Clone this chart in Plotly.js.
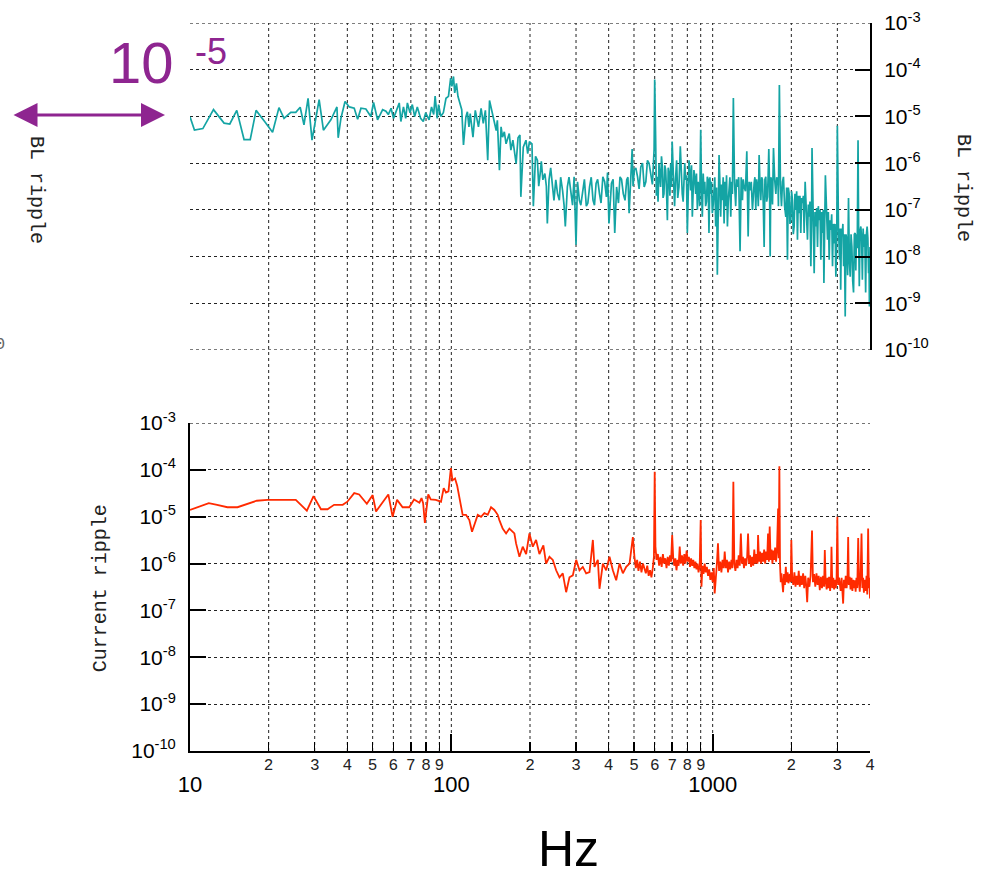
<!DOCTYPE html>
<html>
<head>
<meta charset="utf-8">
<script src="https://cdn.plot.ly/plotly-3.0.1.min.js"></script>
<style>html,body{margin:0;padding:0;background:#fff;}#chart{width:989px;height:880px;}</style>
</head>
<body>
<div id="chart"></div>
<script>
// ---- BL ripple (top, teal) ----
const blFreq = [
10,10.4,11.2,12.3,13.5,14.2,15.1,16.1,17,17.9,
19.3,20.7,21.9,22.9,24.3,25.4,26.4,27.3,28.3,29.3,
30.3,31.2,32.4,34.6,36.5,36.9,37.8,39.2,40.7,42.5,
43.8,45.1,47.1,49.2,50.4,52.2,54.6,56.2,57.4,58.8,
60.1,61.3,63.2,64.1,65.6,66.9,67.9,69.5,70.9,72.4,
74.1,76.3,78.1,79.8,82.2,84,85.6,86.7,88.3,89.4,
91.1,93.2,95.4,97.5,99.4,100.5,101.9,103,104.6,106,
107.6,109.6,111.3,113.7,115.2,116.8,118.1,121,123.5,127,
130,132.5,135,137.8,140,143,146,148.5,150,152.8,
155,157,159.5,162,166.6,169,172,174.5,177,180,
183,184.5,188.5,193,196,199,203.5,206,210,213.5,
216,219.5,221,224,228,231,233,236.5,240,244,
247,251,255,259,262,266.5,270,273,278,282,
287,291,295,300,304,309,313,318,323,328.5,
333,338,343,348.5,353,358,363,369,374,380,
386,392,396,401,405,410,416,422,429,436,
442,448,455,462,469,474,479,485,492,496,
501,508,516,523,531,539,547,555,563,571,
580,588,597,
600,605,609,614,618,623,627,632,637,642,
646,651,656,661,666,671,676,681,686,691,
695,700,707,715,721,728,735,743,752,758,
765,771,777,782,788,794,800,806,812,818,
824,830,836,842,848,854,861,867,874,880,
885,892,900,906,913,920,927,933,940,947,
954,961,968,976,983,990,997,1005,1012,1019,
1027,1035,1042,1050,1058,1065,1073,1081,1089,1097,
1106,1114,1122,1130,1139,1147,1155,1164,1173,1181,
1190,1200,1212,1225,1234,1244,1258,1273,1286,1300,
1309,1319,1335,1351,1367,1379,1391,1405,1420,1430,
1441,1451,1462,1473,1484,1495,1506,1517,1528,1540,
1551,1562,1574,1585,1597,1609,1621,1630,1640,1650,
1660,1669,1679,1694,1709,1727,1745,1758,1771,1778,
1785,1800,1817,1834,1850,1866,1885,1905,1919,1933,
1947,1962,1976,1991,2005,2020,2035,2050,2065,2081,
2096,2111,2127,2143,2158,2174,2190,2207,2223,2239,
2259,2282,2306,2323,2340,2357,2375,2390,2400,2423,
2446,2464,2482,2500,2519,2537,2556,2575,2594,2613,
2633,2649,2665,2700,2725,2751,2771,2792,2812,2833,
2854,2875,2896,2918,2940,2961,2985,3000,3030,3060,
3075,3090,3110,3130,3150,3170,3192,3215,3237,3260,
3285,3310,3335,3360,3385,3410,3435,3460,3485,3510,
3530,3550,3575,3600,3620,3640,3665,3690,3715,3740,
3765,3790,3820,3850,3875,3900,3925,3950,3965,3980,
4000
];
const blRipple = [
9.8e-6,5.1e-6,5.5e-6,1.4e-5,7.2e-6,6.9e-6,1.35e-5,3.2e-6,3.2e-6,1.35e-5,
7.8e-6,4.6e-6,1.55e-5,9.1e-6,1.23e-5,1.23e-5,1.58e-5,6.6e-6,2.45e-5,3.1e-6,
9.1e-6,2.3e-5,5.1e-6,8.5e-6,1.6e-5,3.5e-6,9.1e-6,2.1e-5,1.6e-5,1.5e-5,
8.7e-6,1.5e-5,1.45e-5,1.0e-5,2.0e-5,8.5e-6,1.4e-5,1.3e-5,1.1e-5,1.5e-5,
9.1e-6,1.2e-5,1.95e-5,7.8e-6,1.6e-5,9.1e-6,1.95e-5,1.2e-5,1.8e-5,1.0e-5,
1.6e-5,9.1e-6,7.8e-6,1.2e-5,8.5e-6,1.6e-5,1.1e-5,2.75e-5,9.1e-6,1.8e-5,
1.0e-5,1.2e-5,2.45e-5,2.7e-5,6.6e-5,4.4e-5,7.2e-5,3.2e-5,5.1e-5,2.7e-5,
1.95e-5,1.4e-5,2.45e-6,9.8e-6,1.26e-5,6.0e-6,1.15e-5,3.6e-6,1.35e-5,6.0e-6,
1.5e-5,7.1e-6,1.35e-5,1.15e-6,2.2e-5,1.35e-5,8.3e-6,5.0e-6,8.3e-6,7.1e-7,
6.0e-6,3.6e-6,4.7e-6,2.6e-6,4.3e-6,1.9e-6,3.1e-6,1.9e-6,9.8e-7,3.5e-6,
4.0e-6,1.9e-7,2.2e-6,3.1e-6,1.6e-6,2.9e-6,2.6e-6,1.2e-7,1.4e-6,1.15e-6,
3.2e-7,7.1e-7,1.1e-6,4.4e-7,6.0e-7,3.2e-7,5.1e-8,4.4e-7,7.9e-7,3.1e-7,
1.6e-7,4.4e-7,2.2e-7,1.6e-7,5.0e-7,2.6e-7,1.26e-7,4.4e-8,3.1e-7,5.0e-7,
2.2e-7,1.26e-7,5.1e-7,1.8e-8,4.0e-7,1.6e-7,1.26e-7,2.2e-7,4.5e-7,1.2e-7,
1.4e-7,3.1e-7,5.0e-7,1.6e-7,1.26e-7,3.7e-7,4.5e-7,2.2e-7,1.4e-7,5.1e-7,
4.0e-7,1.9e-7,6.3e-7,5.1e-8,1.8e-7,3.7e-7,4.5e-7,3.2e-8,3.1e-7,1.4e-7,
5.1e-7,4.5e-7,2.2e-7,1.6e-7,4.4e-7,5.0e-7,8.5e-8,4.0e-7,2.0e-6,3.2e-7,
7.1e-7,7.9e-7,5.1e-7,2.8e-7,8.3e-7,1.0e-6,3.1e-7,4.0e-7,1.15e-6,1.0e-6,
6.0e-7,3.5e-7,2.0e-6,
6.2e-5,3.6e-6,2.0e-7,5.1e-7,1.5e-7,9.8e-7,4.5e-7,3.1e-7,1.4e-6,8.3e-7,
1.8e-7,2.2e-7,9e-7,7.1e-7,2.5e-7,6.0e-8,8e-7,6.0e-7,2.0e-7,9.8e-7,
3.1e-7,2.9e-6,6e-7,1.2e-7,4.5e-7,1.15e-6,1.8e-7,3.1e-7,2.3e-6,6e-7,
2.2e-7,1.5e-7,7.1e-7,1.0e-6,4.4e-7,5.5e-7,3.2e-8,2.0e-7,1.15e-6,6e-7,
2.6e-7,9e-7,7.1e-8,2.5e-7,7.1e-7,5e-7,2.2e-7,6e-7,1.0e-7,4e-7,
3.1e-7,1.2e-7,5.2e-6,3.5e-7,7.1e-8,6e-7,2.2e-7,4e-7,1.2e-7,1.5e-7,
5.1e-7,4.5e-7,3.2e-8,5e-7,2.2e-7,4e-7,8.5e-8,1.3e-7,3.1e-7,5e-7,
4.4e-8,3e-7,4.1e-9,4e-7,1.5e-6,4.5e-7,7.1e-8,3.5e-7,1.6e-7,5e-7,
5.1e-8,4e-7,1.2e-7,5.5e-7,4.4e-8,1.5e-7,3.1e-7,5e-7,7.1e-8,4e-7,
2.2e-7,2.5e-5,4e-7,1.2e-7,4.5e-7,3.1e-7,5e-7,1.3e-8,5e-7,1.6e-7,
4.5e-7,3.1e-7,2.5e-7,1.8e-6,2.7e-8,4e-7,2.6e-7,4e-7,1.0e-7,2.5e-7,
3.7e-7,5e-7,1.0e-7,4.5e-7,3.1e-7,1.2e-7,1.5e-6,3.5e-7,1.6e-7,5e-7,
4.4e-7,1.3e-7,1.6e-8,4.5e-7,5.1e-7,1.5e-7,1.9e-7,5e-7,2.0e-6,3.5e-7,
1.0e-8,5e-7,4.4e-7,1.3e-7,2.1e-6,4.5e-7,2.2e-7,5e-7,4.4e-7,4e-7,
1.2e-7,4.7e-5,3.5e-7,1.2e-7,4e-7,5.1e-7,1.2e-7,7.1e-8,3e-7,8.5e-9,
3e-7,2.2e-7,5e-8,6.0e-8,2.5e-7,1.6e-7,3e-8,4.4e-8,2.2e-7,1.0e-7,
2.5e-7,2.3e-8,2.0e-7,8.5e-8,2.0e-7,3.2e-8,1.8e-7,1.4e-7,2.0e-7,3.2e-8,
4.0e-7,1.0e-7,2.3e-8,1.3e-7,7.1e-8,1.5e-7,6.2e-9,5.1e-8,2.1e-6,1.0e-7,
4.4e-9,9e-8,4.4e-8,1.1e-7,1.6e-8,1.2e-7,6.0e-8,1.0e-7,8.5e-9,9e-8,
3.2e-8,1.0e-7,2.7e-9,5.5e-7,7e-8,2.3e-8,9e-8,8.5e-9,6e-8,3.7e-8,
8e-8,6.2e-9,5e-8,1.9e-8,5e-8,3.7e-9,2.7e-8,6.3e-6,4e-8,8.5e-9,
4e-8,1.95e-9,4e-8,2.7e-8,5e-8,6.2e-9,3e-8,5.2e-10,3e-8,2.3e-8,
4e-9,1.8e-7,8e-9,3.7e-9,3e-8,1.6e-8,3e-9,1.7e-9,3e-8,3.2e-8,
5e-9,3e-8,1.5e-8,3.1e-6,3e-8,2.3e-9,3.5e-8,4.4e-8,2.5e-8,3.2e-9,
4e-8,1.6e-8,3e-8,1.7e-9,3e-8,4.4e-8,2.5e-8,4.4e-9,1e-8,8.5e-10,
1.6e-8
];

// ---- Current ripple (bottom, red) ----
const curFreq = [
10,10.7,11.8,12.7,13.9,15.2,16.6,18,19.8,22.9,
25.4,28,29.7,31.7,33.6,35.6,38.4,40,42.5,44.4,
47.5,50,51.5,57.4,59.6,62,65.1,69,72,75.5,
76.9,78,79.2,81.6,83.4,87.2,91.3,93.5,95.4,97.5,
99.6,101,103.3,105.3,107.3,110.5,113.8,117.2,120,122.5,
126.2,129.9,133.8,137.8,141.9,146.1,150.5,152.7,157.2,162,
166.8,174.3,176.9,182.2,187.6,193.3,199,205,211,217.3,
225,230.5,237.4,244.5,251.8,259.3,267,275,283.2,291.7,
300.4,309.3,318.5,328,337.9,348,353,363.6,369,380,
391.3,403,415,427.4,440.2,453.3,466.8,480.7,495,502,
508,514,520,527,534,541,548,555,562,569,
576,583,590,596,600,604,610,617,624,631,
638,645,652,659,666,673,680,687,693,700,
706,713,720,727,734,741,748,755,763,771,
779,787,795,803,811,819,827,835,843,851,
859,867,875,883,892,900,906,914,923,932,
941,950,960,970,980,990,1000,1010,1018,1028,
1038,1048,1058,1069,1080,1091,1102,1112,1123,1134,
1145,1156,1167,1180,1190,1200,1210,1222,1234,1246,
1258,1270,1282,1294,1306,1318,1330,1342,1355,1366,
1378,1390,1403,1416,1430,1443,1456,1470,1484,1492,
1505,1518,1532,1546,1560,1574,1588,1602,1616,1629,
1641,1653,1666,1680,1693,1707,1720,1734,1748,1762,
1780,1790,1800,1810,1822,1833,1846,1860,1875,1890,
1905,1920,1935,1950,1972,1990,2000,2015,2035,2055,
2075,2095,2115,2135,2155,2175,2195,2219,2240,2262,
2280,2300,2320,2345,2370,2400,2420,2445,2470,2496,
2520,2545,2570,2595,2620,2645,2670,2686,2705,2730,
2750,2766,2790,2815,2835,2849,2870,2895,2915,2934,
2960,2980,3000,3020,3045,3066,3090,3115,3140,3157,
3180,3205,3230,3255,3280,3300,3320,3345,3370,3399,
3425,3450,3475,3500,3525,3550,3575,3605,3630,3655,
3680,3712,3740,3765,3790,3822,3850,3880,3905,3935,
3960,3980,4000
];
const curRipple = [
1.4e-5,1.6e-5,1.95e-5,1.8e-5,1.6e-5,1.6e-5,1.9e-5,2.2e-5,2.3e-5,2.3e-5,
2.3e-5,1.35e-5,2.75e-5,1.45e-5,1.45e-5,1.8e-5,1.8e-5,2.1e-5,3.2e-5,3.0e-5,
1.9e-5,2.9e-5,1.3e-5,3.0e-5,1.0e-5,2.3e-5,1.6e-5,1.6e-5,2.35e-5,2.0e-5,
2.5e-5,1.95e-5,7.4e-6,3.0e-5,2.35e-5,2.3e-5,2.1e-5,4.1e-5,3.3e-5,3.5e-5,
1.1e-4,6.0e-5,6.6e-5,4.6e-5,2.7e-5,1.1e-5,1.1e-5,8.5e-6,4.8e-6,6.6e-6,
1.1e-5,1.0e-5,1.2e-5,1.1e-5,1.6e-5,1.4e-5,1.1e-5,8.5e-6,5.6e-6,4.4e-6,
5.6e-6,4.4e-6,2.7e-6,1.4e-6,2.3e-6,1.6e-6,4.4e-6,2.3e-6,3.2e-6,1.6e-6,
2.45e-6,1.0e-6,1.4e-6,1.2e-6,7.2e-7,5.1e-7,6.2e-7,2.45e-7,5.1e-7,5.6e-7,
1.2e-6,7.2e-7,8.5e-7,6.2e-7,6.6e-7,3.2e-6,8.5e-7,1.2e-6,2.9e-7,1.0e-6,
7.2e-7,1.4e-6,7.2e-7,4.4e-7,1.0e-6,6.2e-7,8.5e-7,1.0e-6,3.7e-6,1.4e-6,
8e-7,1.2e-6,7e-7,1.1e-6,6.5e-7,1.0e-6,8e-7,6.2e-7,9e-7,5.5e-7,
7.2e-7,5.1e-7,8e-7,1.4e-6,9.1e-5,2.3e-6,1.2e-6,1.6e-6,9e-7,1.4e-6,
8.5e-7,1.6e-6,1.0e-6,1.3e-6,8e-7,1.4e-6,9e-7,1.5e-6,1.1e-6,4.1e-6,
1.4e-6,9e-7,1.3e-6,7.2e-7,1.2e-6,9e-7,2.3e-6,1.0e-6,1.5e-6,9e-7,
1.6e-6,1.0e-6,1.9e-6,1.1e-6,1.4e-6,8.5e-7,1.3e-6,9e-7,1.2e-6,8e-7,
1.1e-6,7.5e-7,1.0e-6,6.5e-7,9e-7,8.5e-6,3.2e-7,9e-7,6e-7,1.0e-6,
6.5e-7,8.5e-7,5.5e-7,7.5e-7,4.5e-7,6.5e-7,4e-7,8e-7,2.3e-7,7e-7,
1.0e-6,2.7e-6,7e-7,1.1e-6,6.5e-7,1.2e-6,8e-7,1.8e-6,8e-7,1.2e-6,
6.5e-7,1.1e-6,7.5e-7,1.2e-6,8e-7,5.6e-5,1.0e-6,7e-7,1.2e-6,8e-7,
1.5e-6,9e-7,4.4e-6,1.0e-6,1.4e-6,8e-7,1.3e-6,9e-7,1.4e-6,4.4e-6,
1.0e-6,1.5e-6,8.5e-7,1.4e-6,9e-7,2.0e-6,1.0e-6,1.6e-6,1.0e-6,4.1e-6,
1.1e-6,1.8e-6,1.0e-6,1.7e-6,1.1e-6,2.0e-6,1.0e-6,1.8e-6,1.2e-6,4.4e-6,
1.1e-6,6.2e-6,1.2e-6,2.0e-6,1.0e-6,1.9e-6,1.2e-6,2.2e-6,1.1e-6,1.8e-6,
1.5e-5,1.3e-6,1.2e-4,1.0e-6,4e-7,6.2e-7,3.5e-7,2.45e-7,6e-7,3.5e-7,
8.5e-7,4e-7,6.5e-7,3.8e-7,6e-7,4e-7,3.2e-6,5e-7,3.5e-7,6.5e-7,
3.2e-7,5.5e-7,3.5e-7,7e-7,3.2e-7,5.5e-7,3.5e-7,6.2e-7,3e-7,5.5e-7,
3.5e-7,1.5e-7,5e-7,3.2e-7,5.5e-7,5.1e-6,4e-7,6e-7,3.2e-7,6.2e-7,
3.5e-7,5.5e-7,2.7e-7,5.2e-7,3e-7,5.5e-7,3.2e-7,1.95e-6,4.5e-7,2.8e-7,
5e-7,3e-7,5.2e-7,2.6e-7,4.5e-7,2.3e-6,3e-7,5e-7,2.8e-7,4.5e-7,
3e-7,5e-7,1.0e-5,3.5e-7,5e-7,3.7e-7,2.6e-7,5e-7,3e-7,1.4e-7,
4.5e-7,3e-7,5.5e-7,3e-7,5e-7,3.7e-6,3.5e-7,5.2e-7,2.8e-7,5e-7,
2.6e-7,4.5e-7,3e-7,4.4e-7,2.5e-7,5e-7,3e-7,3.5e-6,4e-7,2.5e-7,
5e-7,4.4e-6,3e-7,5e-7,2.4e-7,4.5e-7,2.6e-7,5.5e-7,2.2e-7,5.6e-6,
3e-7,5e-7,1.8e-7
];

// ---- axis ticks / labels ----
const decadeVals = [1e-10,1e-9,1e-8,1e-7,1e-6,1e-5,1e-4,1e-3];
const decadeLabels = ['10<sup>-10</sup>','10<sup>-9</sup>','10<sup>-8</sup>','10<sup>-7</sup>','10<sup>-6</sup>','10<sup>-5</sup>','10<sup>-4</sup>','10<sup>-3</sup>'];
const majorFreqs = [10,100,1000];
const majorLabels = ['10','100','1000'];
const minorFreqs = [20,30,40,50,60,70,80,90,200,300,400,500,600,700,800,900,2000,3000,4000];
const minorLabels = ['2','3','4','5','6','7','8','9','2','3','4','5','6','7','8','9','2','3','4'];
const gridFreqs = [20,30,40,50,60,70,80,90,100,200,300,400,500,600,700,800,900,1000,2000,3000];
const edgeGridTop = [1e-10, 1e-3];
const edgeGridBottom = [1e-3];

const TEAL = '#14a4a4';
const RED = '#ff2a00';
const PURPLE = '#8e2590';
const GRID = '#222222';
const xr = [1, Math.log10(4000)];
const yr = [-10.002, -2.998];

const traces = [
  {x: blFreq, y: blRipple, xaxis:'x', yaxis:'y', type:'scatter', mode:'lines',
   line:{color:TEAL, width:1.7}, hoverinfo:'skip'},
  {x: curFreq, y: curRipple, xaxis:'x2', yaxis:'y2', type:'scatter', mode:'lines',
   line:{color:RED, width:1.8}, hoverinfo:'skip'},
  {x: [], y: [], xaxis:'x3', yaxis:'y2', type:'scatter', mode:'lines', hoverinfo:'skip'}
];

const tickFont = {family:'Liberation Sans, Arial, sans-serif', size:21, color:'#000'};
const gridLine = {color:GRID, width:1, dash:'3px,3px'};

const shapes = gridFreqs.map(f => ({
  type:'line', xref:'x2', yref:'paper', x0:f, x1:f, y0:0, y1:1, line:gridLine, layer:'below'
})).concat(edgeGridTop.map(v => ({
  type:'line', xref:'paper', yref:'y', x0:0, x1:1, y0:v, y1:v, line:gridLine, layer:'below'
}))).concat(edgeGridBottom.map(v => ({
  type:'line', xref:'paper', yref:'y2', x0:0, x1:1, y0:v, y1:v, line:gridLine, layer:'below'
})));

const monoFont = 'Liberation Mono, DejaVu Sans Mono, monospace';

const annotations = [
  {text:'10', xref:'paper', yref:'paper', x:-0.072, y:0.9464, showarrow:false,
   xanchor:'center', yanchor:'middle', font:{family:'Liberation Sans, Arial', size:58, color:PURPLE}},
  {text:'-5', xref:'paper', yref:'paper', x:0.031, y:0.9615, showarrow:false,
   xanchor:'center', yanchor:'middle', font:{family:'Liberation Sans, Arial', size:36, color:PURPLE}},
  {text:'', xref:'paper', yref:'paper', x:-0.0368, y:0.8736, ax:-153, ay:0,
   showarrow:true, arrowside:'end+start', arrowhead:2, startarrowhead:2,
   arrowsize:1.6, startarrowsize:1.6, arrowwidth:3, arrowcolor:PURPLE},
  {text:'BL ripple', xref:'paper', yref:'paper', x:-0.225, y:0.7706, textangle:90, showarrow:false,
   xanchor:'center', yanchor:'middle', font:{family:monoFont, size:20, color:'#222'}},
  {text:'BL ripple', xref:'paper', yref:'paper', x:1.1368, y:0.7734, textangle:90, showarrow:false,
   xanchor:'center', yanchor:'middle', font:{family:monoFont, size:20, color:'#222'}},
  {text:'Current ripple', xref:'paper', yref:'paper', x:-0.132, y:0.2239, textangle:-90, showarrow:false,
   xanchor:'center', yanchor:'middle', font:{family:monoFont, size:20, color:'#222'}},
  {text:'Hz', xref:'paper', yref:'paper', x:0.556, y:-0.1765, showarrow:false,
   xanchor:'center', yanchor:'bottom', font:{family:'Liberation Sans, Arial', size:50, color:'#000'}},
  {text:'0', xref:'paper', yref:'paper', x:-0.2794, y:0.5577, showarrow:false,
   xanchor:'center', yanchor:'middle', font:{family:monoFont, size:17, color:'#666'}}
];

const layout = {
  width:989, height:880,
  margin:{l:190, r:119, t:23, b:129, pad:0},
  paper_bgcolor:'#ffffff', plot_bgcolor:'rgba(0,0,0,0)',
  showlegend:false,
  xaxis:{type:'log', range:xr, domain:[0,1], anchor:'y', showticklabels:false, ticks:'',
         showgrid:false, zeroline:false, showline:false, fixedrange:true},
  yaxis:{type:'log', range:yr, domain:[0.5508,1], anchor:'x', side:'right',
         tickmode:'array', tickvals:decadeVals, ticktext:decadeLabels, tickfont:tickFont,
         ticks:'inside', ticklen:15, tickwidth:2, tickcolor:'#000',
         showline:true, linecolor:'#000', linewidth:2,
         showgrid:true, gridcolor:GRID, gridwidth:1, griddash:'3px,3px',
         zeroline:false, ticklabelstandoff:8, fixedrange:true},
  xaxis2:{type:'log', range:xr, domain:[0,1], anchor:'y2',
          tickmode:'array', tickvals:majorFreqs, ticktext:majorLabels,
          tickfont:{family:'Liberation Sans, Arial', size:22, color:'#000'},
          ticks:'inside', ticklen:17, tickwidth:2, tickcolor:'#000',
          showline:true, linecolor:'#000', linewidth:2,
          showgrid:false, zeroline:false, ticklabelstandoff:13, fixedrange:true},
  xaxis3:{type:'log', range:xr, overlaying:'x2', anchor:'y2', side:'bottom',
          tickmode:'array', tickvals:minorFreqs, ticktext:minorLabels,
          tickfont:{family:monoFont, size:16, color:'#222'},
          ticks:'inside', ticklen:9, tickwidth:1.5, tickcolor:'#000',
          showline:false, showgrid:false, zeroline:false, ticklabelstandoff:2, fixedrange:true},
  yaxis2:{type:'log', range:yr, domain:[0,0.4505], anchor:'x2', side:'left',
          tickmode:'array', tickvals:decadeVals, ticktext:decadeLabels, tickfont:tickFont,
          ticks:'inside', ticklen:16, tickwidth:2, tickcolor:'#000',
          showline:true, linecolor:'#000', linewidth:2,
          showgrid:true, gridcolor:GRID, gridwidth:1, griddash:'3px,3px',
          zeroline:false, ticklabelstandoff:8, fixedrange:true},
  shapes: shapes,
  annotations: annotations
};

Plotly.newPlot('chart', traces, layout, {displayModeBar:false, staticPlot:true});
</script>
</body>
</html>
